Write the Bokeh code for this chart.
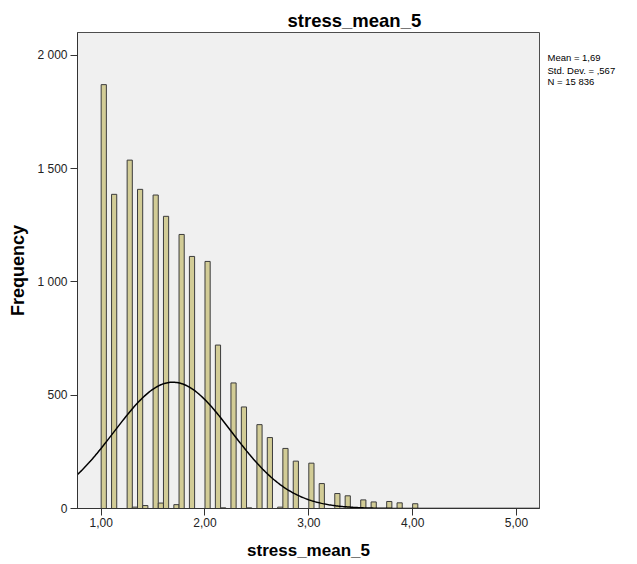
import numpy as np
from bokeh.plotting import figure
from bokeh.models import Range1d, FixedTicker, LinearAxis
from bokeh.embed import file_html
from bokeh.resources import INLINE

# ---------------- data ----------------
bin_starts = [1.00, 1.10, 1.25, 1.30, 1.35, 1.40, 1.50, 1.55, 1.60, 1.70,
              1.75, 1.85, 2.00, 2.10, 2.15, 2.25, 2.35, 2.40, 2.50, 2.60,
              2.70, 2.75, 2.85, 3.00, 3.10, 3.25, 3.35, 3.50, 3.60, 3.75,
              3.85, 4.00]
counts = [1870, 1386, 1537, 6, 1408, 13, 1383, 24, 1289, 17,
          1209, 1112, 1090, 721, 3, 554, 448, 3, 370, 313,
          6, 265, 209, 200, 110, 66, 56, 38, 29, 31,
          25, 21]
BIN_WIDTH = 0.05

stat_mean = 1.69
stat_sd = 0.567
stat_n = 15836
stats_lines = ["Mean = 1,69", "Std. Dev. = ,567", "N = 15 836"]

x_tick_values = [1, 2, 3, 4, 5]
x_tick_labels = ["1,00", "2,00", "3,00", "4,00", "5,00"]
y_tick_values = [0, 500, 1000, 1500, 2000]
y_tick_labels = ["0", "500", "1 000", "1 500", "2 000"]

title_text = "stress_mean_5"
x_label_text = "stress_mean_5"
y_label_text = "Frequency"

# ---------------- layout ----------------
W, H = 637, 564
FRAME_L, FRAME_T, FRAME_W, FRAME_H = 77, 32, 462, 476
X_LO, X_HI = 0.772, 5.222
Y_LO, Y_HI = 0, 2100


def dy(py):
    """pixel row (from the top of the figure) -> data y"""
    return Y_HI - (py - FRAME_T) * (Y_HI - Y_LO) / FRAME_H


FONT = "Liberation Sans"

p = figure(width=W, height=H,
           x_range=Range1d(X_LO, X_HI), y_range=Range1d(Y_LO, Y_HI),
           output_backend="svg", toolbar_location=None,
           min_border_left=FRAME_L, min_border_top=FRAME_T,
           min_border_right=W - FRAME_L - FRAME_W,
           min_border_bottom=H - FRAME_T - FRAME_H,
           background_fill_color="#F0F0F0", border_fill_color="white",
           outline_line_color="#4D4D4D", outline_line_width=1)
p.xgrid.visible = False
p.ygrid.visible = False

# title
p.title.text = title_text
p.title.align = "left"
p.title.offset = 210
p.title.standoff = 4
p.title.text_font = FONT
p.title.text_font_size = "18.5px"
p.title.text_font_style = "bold"
p.title.text_color = "black"

# bars
lefts = list(bin_starts)
rights = [b + BIN_WIDTH for b in bin_starts]
p.quad(left=lefts, right=rights, bottom=0, top=counts,
       fill_color="#D2CC96", line_color="#3C3C3C", line_width=1)

# normal curve from the reported statistics
xs = np.linspace(X_LO, X_HI, 400)
ys = stat_n * BIN_WIDTH / (stat_sd * np.sqrt(2 * np.pi)) * np.exp(-0.5 * ((xs - stat_mean) / stat_sd) ** 2)
p.line(xs, ys, line_color="black", line_width=1.5)

# axes
p.xaxis.ticker = FixedTicker(ticks=x_tick_values)
p.xaxis.major_label_overrides = {v: l for v, l in zip(x_tick_values, x_tick_labels)}
p.yaxis.ticker = FixedTicker(ticks=y_tick_values)
p.yaxis.major_label_overrides = {v: l for v, l in zip(y_tick_values, y_tick_labels)}
for ax in (p.xaxis, p.yaxis):
    ax.major_tick_in = 0
    ax.major_tick_out = 7
    ax.minor_tick_in = 0
    ax.minor_tick_out = 0
    ax.axis_line_color = "#333333"
    ax.major_tick_line_color = "#333333"
    ax.major_label_text_font = FONT
    ax.major_label_text_font_size = "12px"
    ax.major_label_text_color = "#222222"
    ax.axis_label_text_font = FONT
    ax.axis_label_text_font_style = "bold"
    ax.axis_label_text_color = "black"
p.xaxis.major_label_standoff = 2
p.yaxis.major_label_standoff = 3
p.xaxis.axis_label = x_label_text
p.xaxis.axis_label_text_font_size = "17px"
p.xaxis.axis_label_standoff = 11
p.yaxis.axis_label = y_label_text
p.yaxis.axis_label_text_font_size = "18px"
p.yaxis.axis_label_standoff = 6

# statistics box text on the right, drawn as labels of a bare right axis
stat_rows = [57.0, 69.7, 81.3]
stat_ticks = [dy(r) for r in stat_rows]
stats_axis = LinearAxis(ticker=FixedTicker(ticks=stat_ticks),
                        major_label_overrides={t: s for t, s in zip(stat_ticks, stats_lines)},
                        axis_line_color=None, major_tick_line_color=None,
                        minor_tick_line_color=None, major_tick_out=0, major_tick_in=0,
                        major_label_standoff=8,
                        major_label_text_font=FONT,
                        major_label_text_font_size="9.5px",
                        major_label_text_color="black")
p.add_layout(stats_axis, "right")

open("out.html", "w").write(file_html(p, INLINE))
